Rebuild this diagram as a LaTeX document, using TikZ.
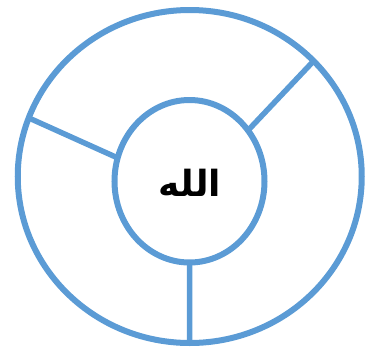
\documentclass[tikz,border=0pt]{standalone}
\usepackage{fontspec}
\usetikzlibrary{shapes.geometric}
\TeXXeTstate=1
\newfontfamily\arabicfont[Script=Arabic]{DejaVu Sans}
\definecolor{ringblue}{HTML}{5B9BD5}
\begin{document}
\begin{tikzpicture}[x=1pt,y=-1pt,
  ring/.style={ellipse,draw=ringblue,line width=6pt,inner sep=0pt,outer sep=0pt},
  spoke/.style={draw=ringblue,line width=5.5pt}]
\useasboundingbox (0,0) rectangle (365,349);
\node[ring,minimum width=344pt,minimum height=333pt] (outer) at (189.75,176.5) {};
\node[ring,minimum width=150pt,minimum height=162.5pt] (inner) at (189.5,181.25) {};
\node[anchor=base,inner sep=0pt] (lbl) at (190,196) {\fontsize{36}{42}\selectfont\arabicfont\bfseries\beginR الله\endR};
\draw[spoke] (inner.41.2) -- (outer.43.7);
\draw[spoke] (inner.162.5) -- (outer.160.2);
\draw[spoke] (inner.270) -- (outer.270);
\end{tikzpicture}
\end{document}
